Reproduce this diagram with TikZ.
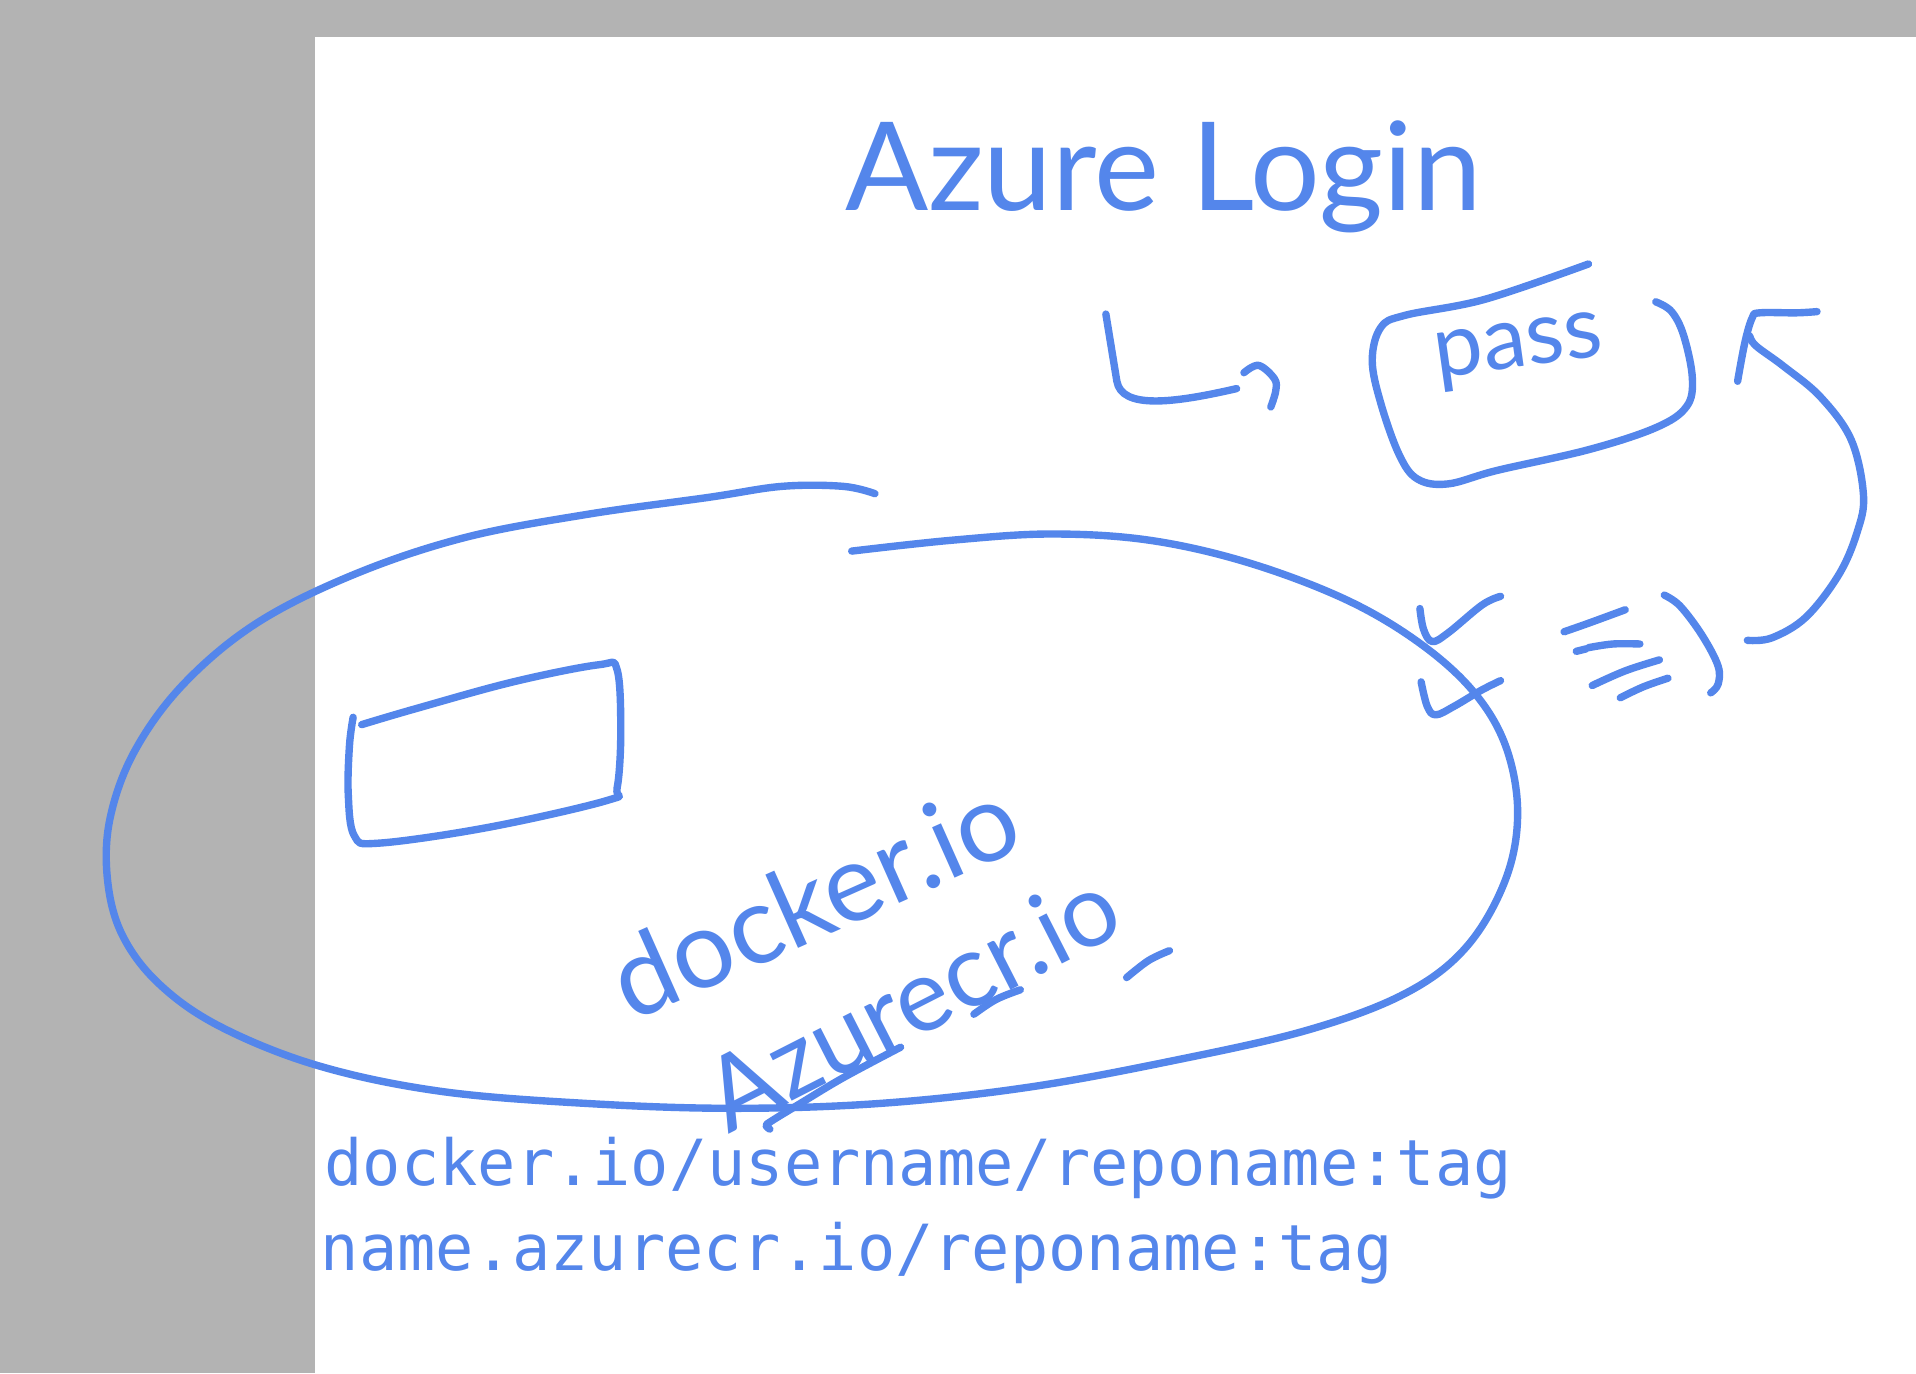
\documentclass[tikz,border=0pt]{standalone}
\usepackage{fontspec}
\usepackage{xcolor}
\newfontfamily\handfont{Lato}
\newfontfamily\codefont{DejaVu Sans Mono}
\usetikzlibrary{positioning}
\definecolor{pen}{RGB}{84,134,235}
\definecolor{desk}{RGB}{179,179,179}
\tikzset{
ink/.style={draw=pen, line width=2.1pt, line cap=round, line join=round},
scrawl/.style={text=pen, font=\handfont\fontsize{#1}{#1}\selectfont, inner sep=0pt},
code/.style={text=pen, font=\codefont\fontsize{18.1}{22}\selectfont, inner sep=0pt, anchor=base west}
}
\newcommand{\scribble}[1]{\draw[ink] plot[smooth, tension=.6] coordinates {#1};}

\begin{document}
\begin{tikzpicture}[x=0.1222mm, y=-0.1222mm]
\useasboundingbox (0,0) rectangle (1568,1124);
\fill[desk] (0,0) rectangle (1568,1124);
\fill[white] (258,30) rectangle (1568,1124);

% titles
\node[scrawl=35, anchor=base] (login) at (952,172) {Azure Login};
\node[scrawl=25, anchor=base, rotate=8] (pass) at (1245,300) {pass};

% login -> pass
\coordinate (lstart) at (905,257);
\coordinate (lend) at (1012,318);
\draw[ink] (lstart) -- (914,312) .. controls (918,335) and (960,330) .. (lend);
\scribble{(1018,305) (1030,299) (1043,310) (1044,320) (1040,333)}

% box round pass
\scribble{(1300,216) (1215,245) (1150,258) (1130,268) (1123,295) (1130,330) (1145,372) (1160,392) (1185,396) (1225,385) (1300,368) (1355,350) (1380,333) (1385,310) (1378,275) (1368,255) (1355,247)}

% back up to pass
\coordinate (back) at (1430,524);
\coordinate (tip) at (1432,275);
\draw[ink] plot[smooth, tension=.6] coordinates {(back) (1450,522) (1478,505) (1505,470) (1520,435) (1525,405) (1515,360) (1490,325) (1460,300) (1437,283) (tip)};
\scribble{(1422,312) (1428,280) (1434,260) (1440,256) (1470,256) (1487,255)}

% marks near the loop
\scribble{(1162,498) (1165,515) (1172,525) (1185,518) (1213,495) (1228,488)}
\scribble{(1163,558) (1168,578) (1175,585) (1190,578) (1212,565) (1228,557)}
\scribble{(1280,517) (1300,510) (1330,499)}
\scribble{(1290,533) (1298,531)}
\scribble{(1300,530) (1320,527) (1342,527)}
\scribble{(1303,561) (1330,549) (1358,540)}
\scribble{(1326,571) (1345,562) (1365,555)}
\scribble{(1362,487) (1375,496) (1393,520) (1406,545) (1406,560) (1400,567)}

% the loop
\scribble{(716,404) (690,398) (640,398) (580,407) (480,421) (380,440) (290,470) (210,510) (150,560) (110,615) (90,670) (88,720) (100,765) (130,805) (180,840) (260,872) (360,893) (480,903) (600,907) (720,903) (840,890) (960,868) (1070,843) (1150,813) (1200,775) (1232,720) (1242,665) (1232,610) (1205,565) (1160,525) (1100,490) (1020,460) (940,442) (860,437) (780,442) (697,451)}

% box inside the loop
\scribble{(296,593) (340,580) (420,558) (490,544) (505,548) (508,600) (505,645) (497,655) (400,677) (310,690) (290,684) (285,650) (286,610) (289,587)}

% registries
\node[scrawl=31, rotate=24] (docker) at (666,735) {docker.io};
\node[scrawl=29, rotate=27] (azurecr) at (746,818) {Azurecr.io};
\scribble{(797,830) (815,818) (835,810)}
\scribble{(922,800) (940,786) (957,778)}
\scribble{(737,857) (690,882) (655,903) (632,917) (627,921) (630,924)}

% full names
\node[code] (dockerref) at (265,970) {docker.io/username/reponame:tag};
\node[code] (azureref) at (262,1040) {name.azurecr.io/reponame:tag};
\end{tikzpicture}
\end{document}
